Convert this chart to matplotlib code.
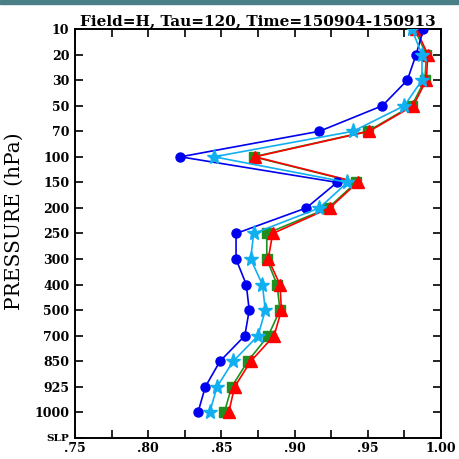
import matplotlib
matplotlib.use("Agg")
import matplotlib.pyplot as plt
from matplotlib.patches import Rectangle
from matplotlib.ticker import MultipleLocator

# pressure levels, top of atmosphere first
levels = ["10", "20", "30", "50", "70", "100", "150", "200", "250",
          "300", "400", "500", "700", "850", "925", "1000", "SLP"]

# anomaly correlation per level (no SLP value plotted)
blue_ac = [0.988, 0.983, 0.977, 0.960, 0.917, 0.822, 0.929, 0.908,
           0.860, 0.860, 0.867, 0.869, 0.866, 0.849, 0.839, 0.834]
cyan_ac = [0.980, 0.987, 0.987, 0.975, 0.940, 0.845, 0.936, 0.917,
           0.872, 0.870, 0.878, 0.880, 0.875, 0.858, 0.847, 0.842]
green_ac = [0.982, 0.990, 0.989, 0.980, 0.950, 0.872, 0.942, 0.923,
            0.881, 0.881, 0.888, 0.890, 0.882, 0.868, 0.857, 0.852]
red_ac = [0.983, 0.991, 0.990, 0.981, 0.951, 0.873, 0.943, 0.924,
          0.885, 0.882, 0.890, 0.891, 0.886, 0.870, 0.859, 0.855]

xticks = [0.75, 0.80, 0.85, 0.90, 0.95, 1.00]
xticklabels = [".75", ".80", ".85", ".90", ".95", "1.00"]

title = "Field=H, Tau=120, Time=150904-150913"

fig = plt.figure(figsize=(4.59, 4.59), dpi=100)
fig.patches.append(Rectangle((0, 0.991), 1, 0.009, transform=fig.transFigure,
                             color="#4a7f88", zorder=0))
ax = fig.add_axes([0.1634, 0.0458, 0.7974, 0.891])

ypos = list(range(len(blue_ac)))
ax.plot(green_ac, ypos, color="#1f8f1f", lw=1.2, marker="s", ms=6.5, zorder=2)
ax.plot(red_ac, ypos, color="#ff0000", lw=1.2, marker="^", ms=8.5, zorder=3)
ax.plot(blue_ac, ypos, color="#0000f0", lw=1.2, marker="o", ms=6.5, zorder=4)
ax.plot(cyan_ac, ypos, color="#10b0f0", lw=1.2, marker="*", ms=11, zorder=5)

ax.set_xlim(0.75, 1.00)
ax.set_ylim(len(levels) - 1, 0)
ax.set_yticks(range(len(levels)))
ax.set_yticklabels(levels)
ax.set_xticks(xticks)
ax.set_xticklabels(xticklabels)
ax.xaxis.set_minor_locator(MultipleLocator(0.025))

for lab in ax.get_xticklabels() + ax.get_yticklabels():
    lab.set_fontfamily("DejaVu Serif")
    lab.set_fontweight("bold")
    lab.set_fontsize(9)
ax.get_yticklabels()[-1].set_fontsize(7.5)

ax.tick_params(axis="both", which="both", direction="in", top=True,
               right=True, width=1.2, color="black")
ax.tick_params(axis="x", which="both", length=6, pad=3, labeltop=False)
ax.tick_params(axis="y", length=6, pad=4)
for s in ax.spines.values():
    s.set_linewidth(1.4)

ax.set_ylabel("PRESSURE (hPa)", fontfamily="DejaVu Serif", fontsize=14.5)
ax.yaxis.set_label_coords(-0.14, 0.53)
ax.set_title(title, fontfamily="DejaVu Serif", fontweight="bold",
             fontsize=11, pad=3)

fig.savefig("out.png", dpi=100)
